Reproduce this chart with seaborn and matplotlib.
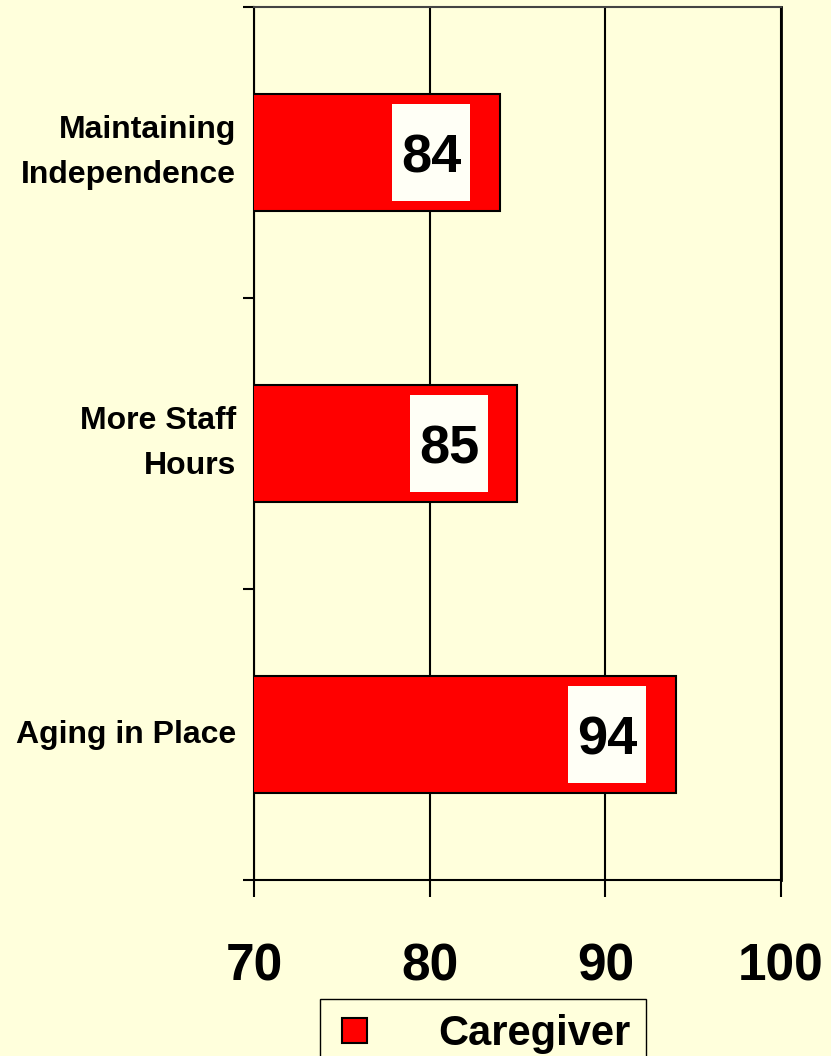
import numpy as np
import pandas as pd
import matplotlib
matplotlib.use('Agg')
import matplotlib.pyplot as plt
import seaborn as sns
from matplotlib.patches import Rectangle
from matplotlib.lines import Line2D

categories = ['Maintaining\nIndependence', 'More Staff\nHours', 'Aging in Place']
values = [84, 85, 94]
series_name = 'Caregiver'
x_ticks = [70, 80, 90, 100]

BG = '#FFFFDC'
RED = '#FF0000'

sns.set_theme(style='white')
plt.rcParams['font.family'] = ['Liberation Sans', 'DejaVu Sans']
plt.rcParams['font.weight'] = 'bold'
plt.rcParams['text.color'] = 'black'
plt.rcParams['xtick.color'] = 'black'
plt.rcParams['ytick.color'] = 'black'

W, H = 831, 1056
fig = plt.figure(figsize=(W / 100, H / 100), dpi=100, facecolor=BG)
ax = fig.add_axes([254 / W, 1 - 880 / H, (781 - 254) / W, (880 - 7) / H])
ax.set_facecolor(BG)

df = pd.DataFrame({'category': categories, 'value': values})
sns.barplot(data=df, x='value', y='category', color=RED, saturation=1,
            edgecolor='black', linewidth=1.5, width=0.4, ax=ax, zorder=3)

ax.set_xlim(70, 100)
ax.set_ylim(2.5, -0.5)
ax.set_xticks(x_ticks)
ax.set_xlabel('')
ax.set_ylabel('')

# vertical gridlines behind the bars
ax.xaxis.grid(True, color='black', lw=1.5)
ax.set_axisbelow(True)

for side in ['left', 'bottom', 'right']:
    ax.spines[side].set_color('black')
    ax.spines[side].set_linewidth(1.5)
ax.spines['right'].set_linewidth(2)
ax.spines['top'].set_color('#444444')
ax.spines['top'].set_linewidth(1.5)

# category separators as minor ticks
ax.set_yticks(np.arange(len(categories) + 1) - 0.5, minor=True)
ax.tick_params(axis='y', which='minor', length=8, width=1.5, color='black', left=True)
ax.tick_params(axis='y', which='major', length=0, pad=13, labelsize=23)
ax.tick_params(axis='x', length=12, width=1.5, color='black', pad=33, labelsize=37, bottom=True)
for lab in ax.get_yticklabels():
    lab.set_linespacing(1.65)
    lab.set_fontweight('bold')
    lab.set_color('black')
    lab.set_va('center')
for lab in ax.get_xticklabels():
    lab.set_fontweight('bold')
    lab.set_color('black')

# value labels in white boxes near the bar end
box_w = 4.44
box_h = 0.33
for i, v in enumerate(values):
    cx = v - 3.9
    ax.add_patch(Rectangle((cx - box_w / 2, i - box_h / 2), box_w, box_h,
                           facecolor='#FFFFF6', edgecolor='none', zorder=4))
    ax.text(cx, i + 0.068, str(v), ha='center', va='baseline', fontsize=39,
            fontweight='bold', color='black', zorder=5)

handle = Line2D([], [], marker='s', markersize=18, markerfacecolor=RED,
                markeredgecolor='black', markeredgewidth=1.5, linestyle='none')
fig.legend([handle], [series_name], loc='upper left',
           bbox_to_anchor=(320 / W, 1 - 999 / H), bbox_transform=fig.transFigure,
           frameon=True, fancybox=False, edgecolor='black', facecolor=BG,
           framealpha=1, prop={'weight': 'bold', 'size': 30},
           handlelength=0.91, handletextpad=1.59,
           borderpad=0.35, borderaxespad=0)

fig.savefig('out.png', dpi=100, facecolor=BG)
